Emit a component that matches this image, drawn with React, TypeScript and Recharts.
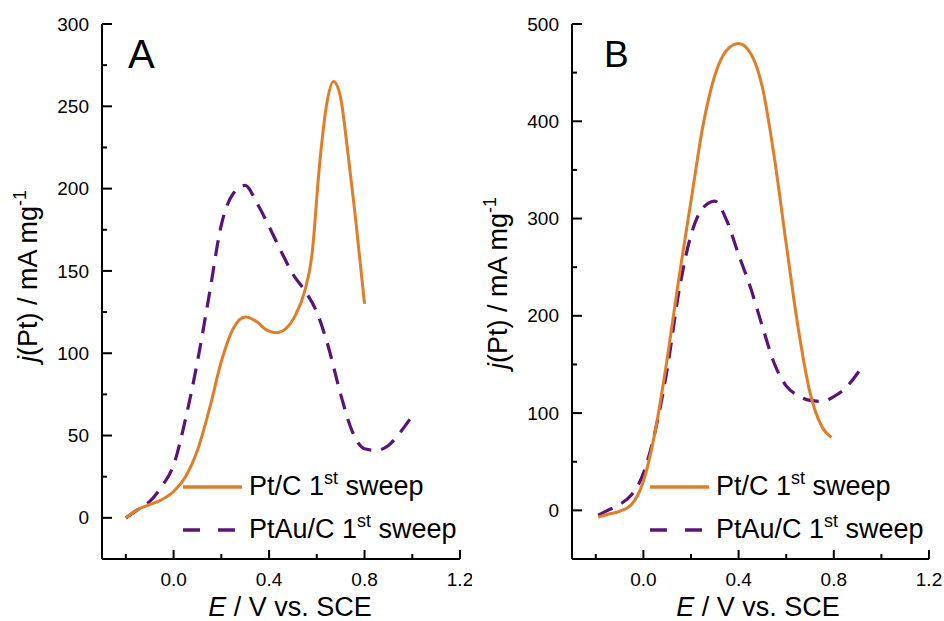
import { LineChart, Line, XAxis, YAxis } from 'recharts';

// potential axis (both panels)
const potentialTicks = [-0.2, 0, 0.2, 0.4, 0.6, 0.8, 1.0, 1.2];
const potentialMajor = [0, 0.4, 0.8, 1.2];

// panel A current axis
const currentTicksA = [0, 25, 50, 75, 100, 125, 150, 175, 200, 225, 250, 275, 300];
// panel B current axis
const currentTicksB = [0, 50, 100, 150, 200, 250, 300, 350, 400, 450, 500];

// Panel A, Pt/C 1st sweep
const ptcA_E = [-0.2, -0.15, -0.1, -0.05, 0, 0.05, 0.1, 0.15, 0.2, 0.25, 0.3, 0.35, 0.39, 0.43, 0.47, 0.51, 0.55, 0.58, 0.61, 0.64, 0.67, 0.7, 0.73, 0.76, 0.8];
const ptcA_j = [0, 5, 8, 11, 16, 25, 41, 66, 95, 115, 122, 119, 114, 112.5, 115, 123, 138, 160, 212, 250, 265, 255, 222, 185, 130];

// Panel A, PtAu/C 1st sweep
const ptauA_E = [-0.2, -0.15, -0.1, -0.05, 0, 0.05, 0.1, 0.15, 0.2, 0.25, 0.3, 0.35, 0.4, 0.45, 0.5, 0.55, 0.6, 0.65, 0.7, 0.75, 0.8, 0.85, 0.9, 0.95, 1.0];
const ptauA_j = [0, 5, 10, 19, 32, 60, 95, 136, 178, 197, 202, 191, 177, 162, 148, 138, 125, 103, 75, 52, 42, 41, 44, 52, 62];

// Panel B, Pt/C 1st sweep
const ptcB_E = [-0.19, -0.15, -0.1, -0.05, 0, 0.05, 0.1, 0.15, 0.2, 0.25, 0.3, 0.35, 0.4, 0.45, 0.5, 0.55, 0.6, 0.65, 0.7, 0.75, 0.79];
const ptcB_j = [-7, -4, -1, 6, 30, 82, 156, 240, 318, 395, 447, 473, 480, 470, 435, 363, 274, 188, 121, 86, 75];

// Panel B, PtAu/C 1st sweep
const ptauB_E = [-0.19, -0.15, -0.1, -0.05, 0, 0.05, 0.1, 0.15, 0.2, 0.25, 0.3, 0.35, 0.4, 0.45, 0.5, 0.55, 0.6, 0.65, 0.7, 0.75, 0.8, 0.85, 0.9, 0.92];
const ptauB_j = [-5, 0, 6, 16, 38, 82, 145, 226, 283, 311, 318, 298, 263, 229, 189, 151, 128, 118, 113, 112, 117, 126, 141, 148];

const ORANGE = '#E07D28';
const PURPLE = '#5A1478';
const FONT = '"Liberation Sans", Arial, Helvetica, sans-serif';

const zip = (E: number[], j: number[]) => E.map((e, i) => ({ E: e, j: j[i] }));

function makeYTick(majorStep: number) {
  return (props: any) => {
    const { x, y, payload } = props;
    const major = payload.value % majorStep === 0;
    return (
      <g>
        <path d={`M${x},${y}H${x + (major ? 10 : 5)}`} stroke="#000" strokeWidth={2} fill="none" />
        {major && (
          <text x={x - 13} y={y} dy="0.35em" textAnchor="end" fontSize={19} fontFamily={FONT} fill="#000">
            {payload.value}
          </text>
        )}
      </g>
    );
  };
}

function XTick(props: any) {
  const { x, y, payload } = props;
  const major = potentialMajor.some((m) => Math.abs(m - payload.value) < 1e-6);
  return (
    <g>
      <path d={`M${x},${y}V${y - (major ? 9 : 5)}`} stroke="#000" strokeWidth={2} fill="none" />
      {major && (
        <text x={x} y={y + 27} textAnchor="middle" fontSize={19} fontFamily={FONT} fill="#000">
          {payload.value.toFixed(1)}
        </text>
      )}
    </g>
  );
}

function Panel(props: {
  left: number;
  yWidth: number;
  right: number;
  domain: [number, number];
  ticks: number[];
  majorStep: number;
  pt: { E: number; j: number }[];
  ptau: { E: number; j: number }[];
}) {
  return (
    <div style={{ position: 'absolute', left: props.left, top: 0 }}>
      <LineChart width={472} height={621} margin={{ top: 24, right: props.right, bottom: 0, left: 0 }}>
        <XAxis
          type="number"
          dataKey="E"
          domain={[-0.3, 1.2]}
          ticks={potentialTicks}
          interval={0}
          height={62}
          tickSize={0}
          tickMargin={0}
          tickLine={false}
          axisLine={{ stroke: '#000', strokeWidth: 2 }}
          tick={XTick}
        />
        <YAxis
          type="number"
          domain={props.domain}
          ticks={props.ticks}
          interval={0}
          width={props.yWidth}
          tickSize={0}
          tickMargin={0}
          tickLine={false}
          axisLine={{ stroke: '#000', strokeWidth: 2 }}
          tick={makeYTick(props.majorStep)}
        />
        <Line data={props.ptau} dataKey="j" type="monotone" stroke={PURPLE} strokeWidth={3.2}
          strokeDasharray="16 10" dot={false} isAnimationActive={false} />
        <Line data={props.pt} dataKey="j" type="monotone" stroke={ORANGE} strokeWidth={3}
          dot={false} isAnimationActive={false} />
      </LineChart>
    </div>
  );
}

function Legend(props: { x: number }) {
  const { x } = props;
  return (
    <g fontFamily={FONT} fontSize={27} fill="#000">
      <line x1={x} x2={x + 59} y1={487} y2={487} stroke={ORANGE} strokeWidth={3.5} />
      <text x={x + 66} y={495}>
        Pt/C 1<tspan dy={-11} fontSize={18}>st</tspan><tspan dy={11}> sweep</tspan>
      </text>
      <line x1={x} x2={x + 55} y1={530} y2={530} stroke={PURPLE} strokeWidth={3.5} strokeDasharray="17 18" />
      <text x={x + 66} y={538}>
        PtAu/C 1<tspan dy={-11} fontSize={18}>st</tspan><tspan dy={11}> sweep</tspan>
      </text>
    </g>
  );
}

function YLabel(props: { x: number; y: number }) {
  return (
    <text transform={`translate(${props.x},${props.y}) rotate(-90)`} textAnchor="middle"
      fontFamily={FONT} fontSize={27} fill="#000">
      <tspan fontStyle="italic">j</tspan>(Pt) / mA mg<tspan dy={-11} fontSize={18}>-1</tspan>
    </text>
  );
}

function XLabel(props: { x: number }) {
  return (
    <text x={props.x} y={616} textAnchor="middle" fontFamily={FONT} fontSize={27} fill="#000">
      <tspan fontStyle="italic">E</tspan> / V vs. SCE
    </text>
  );
}

export default function App() {
  return (
    <div style={{ position: 'absolute', left: 0, top: 0, width: 944, height: 621, background: '#fff' }}>
      <Panel left={0} yWidth={102} right={12} domain={[-25, 300]} ticks={currentTicksA} majorStep={50}
        pt={zip(ptcA_E, ptcA_j)} ptau={zip(ptauA_E, ptauA_j)} />
      <Panel left={472} yWidth={100} right={15} domain={[-50, 500]} ticks={currentTicksB} majorStep={100}
        pt={zip(ptcB_E, ptcB_j)} ptau={zip(ptauB_E, ptauB_j)} />
      <svg width={944} height={621} style={{ position: 'absolute', left: 0, top: 0, pointerEvents: 'none' }}>
        <text x={128} y={68} fontFamily={FONT} fontSize={40} fill="#000">A</text>
        <text x={604} y={67} fontFamily={FONT} fontSize={37} fill="#000">B</text>
        <Legend x={183} />
        <Legend x={650} />
        <YLabel x={37} y={276} />
        <YLabel x={507} y={283} />
        <XLabel x={290} />
        <XLabel x={758} />
      </svg>
    </div>
  );
}
